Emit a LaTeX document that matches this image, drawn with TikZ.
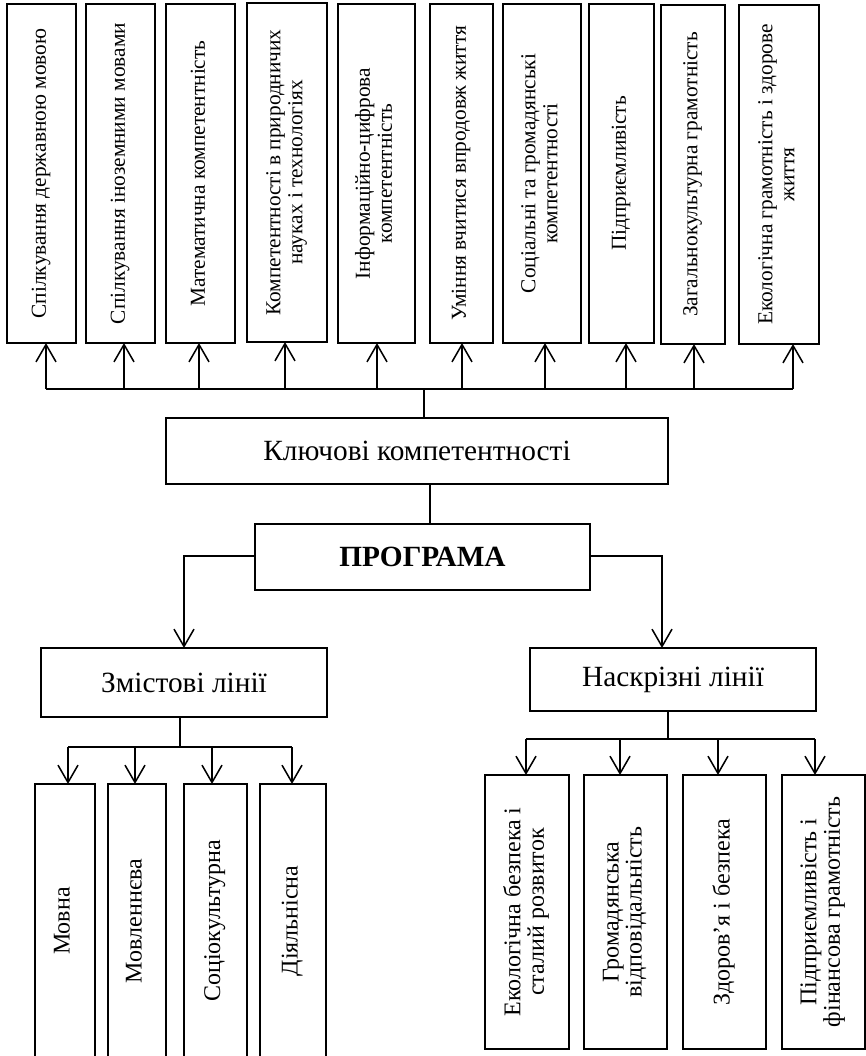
\documentclass[tikz,border=0pt]{standalone}
\usepackage{fontspec}
\setmainfont{Liberation Serif}
\usetikzlibrary{arrows.meta}
% vertical (rotated) multi-line label
\newcommand\vtext[1]{\rotatebox{90}{\begin{tabular}{@{}c@{}}#1\end{tabular}}}
\tikzset{
  frame/.style={draw, line width=1.45pt, inner sep=0pt, outer sep=0pt},
  % box from its top-left corner (x,y) with width w and height h
  place/.style n args={4}{anchor=north west, at={(#1,#2)},
    minimum width=#3*0.75pt, minimum height=#4*0.75pt},
  topbox/.style={frame, font=\fontsize{16}{16.5}\selectfont},
  subbox/.style={frame, font=\fontsize{18}{17.25}\selectfont},
  mainbox/.style={frame, font=\fontsize{22}{26}\selectfont},
  progbox/.style={frame, line width=2.1pt, font=\fontsize{22}{26}\selectfont\bfseries},
  link/.style={line width=1.15pt},
  arr/.style={link, -{Straight Barb[length=13pt,width=15pt]}},
}
\begin{document}
\begin{tikzpicture}[x=0.75pt,y=-0.75pt]
\useasboundingbox (0,0) rectangle (866,1056);

% key competences
\node[topbox, place={7}{4}{69}{339}]   (c1)  {\vtext{Спілкування  державною мовою}};
\node[topbox, place={86}{4}{69}{339}]  (c2)  {\vtext{Спілкування іноземними мовами}};
\node[topbox, place={166}{4}{69}{339}] (c3)  {\vtext{Математична компетентність}};
\node[topbox, place={247}{3}{80}{339}] (c4)  {\vtext{Компетентності в природничих\\науках і технологіях}};
\node[topbox, place={338}{4}{77}{339}] (c5)  {\vtext{Інформаційно-цифрова\\компетентність}};
\node[topbox, place={430}{4}{63}{339}] (c6)  {\vtext{Уміння вчитися впродовж життя}};
\node[topbox, place={503}{4}{78}{339}] (c7)  {\vtext{Соціальні та громадянські\\компетентності}};
\node[topbox, place={589}{4}{65}{339}] (c8)  {\vtext{Підприємливість}};
\node[topbox, place={661}{5}{64}{339}] (c9)  {\vtext{Загальнокультурна грамотність}};
\node[topbox, place={739}{5}{80}{339}] (c10) {\vtext{Екологічна грамотність і здорове\\життя}};

% central blocks
\node[mainbox, place={166}{418}{502}{66}] (key)  {Ключові компетентності};
\node[progbox, place={255}{524}{335}{66}] (prog) {ПРОГРАМА};
\node[mainbox, place={41}{648}{286}{69}]  (zm)   {Змістові лінії};
\node[mainbox, place={530}{648}{286}{63}] (nk)   {Наскрізні лінії};

% content lines
\node[subbox, place={35}{784}{60}{274}]  (m1) {\vtext{Мовна}};
\node[subbox, place={108}{784}{58}{274}] (m2) {\vtext{Мовленнєва}};
\node[subbox, place={184}{784}{63}{274}] (m3) {\vtext{Соціокультурна}};
\node[subbox, place={260}{784}{66}{274}] (m4) {\vtext{Діяльнісна}};

% cross-cutting lines
\node[subbox, place={485}{775}{84}{274}] (n1) {\vtext{Екологічна безпека і\\сталий розвиток}};
\node[subbox, place={584}{775}{83}{274}] (n2) {\vtext{Громадянська\\відповідальність}};
\node[subbox, place={683}{775}{83}{274}] (n3) {\vtext{Здоров’я і безпека}};
\node[subbox, place={782}{775}{83}{274}] (n4) {\vtext{Підприємливість і\\фінансова грамотність}};

% bus to the key competences
\coordinate (t1) at (46,389);  \coordinate (t2) at (124,389);
\coordinate (t3) at (199,389); \coordinate (t4) at (285,389);
\coordinate (t5) at (377,389); \coordinate (t6) at (462,389);
\coordinate (t7) at (545,389); \coordinate (t8) at (626,389);
\coordinate (t9) at (694,389); \coordinate (t10) at (793,389);
\coordinate (tk) at (424,389);
\draw[link] (t1) -- (t10);
\draw[link] (tk) -- (tk |- key.north);
\draw[arr] (t1) -- (t1 |- c1.south);
\draw[arr] (t2) -- (t2 |- c2.south);
\draw[arr] (t3) -- (t3 |- c3.south);
\draw[arr] (t4) -- (t4 |- c4.south);
\draw[arr] (t5) -- (t5 |- c5.south);
\draw[arr] (t6) -- (t6 |- c6.south);
\draw[arr] (t7) -- (t7 |- c7.south);
\draw[arr] (t8) -- (t8 |- c8.south);
\draw[arr] (t9) -- (t9 |- c9.south);
\draw[arr] (t10) -- (t10 |- c10.south);

% key competences -- programme
\coordinate (kp) at (430,484);
\draw[link] (kp) -- (kp |- prog.north);

% programme branches
\coordinate (pl) at (184,556);
\coordinate (pr) at (662,556);
\draw[arr] (prog.west |- pl) -- (pl) -- (pl |- zm.north);
\draw[arr] (prog.east |- pr) -- (pr) -- (pr |- nk.north);

% content lines bus
\coordinate (zb) at (180,747);
\coordinate (z1) at (68,747);  \coordinate (z2) at (135,747);
\coordinate (z3) at (212,747); \coordinate (z4) at (292,747);
\draw[link] (zm.south -| zb) -- (zb);
\draw[link] (z1) -- (z4);
\draw[arr] (z1) -- (z1 |- m1.north);
\draw[arr] (z2) -- (z2 |- m2.north);
\draw[arr] (z3) -- (z3 |- m3.north);
\draw[arr] (z4) -- (z4 |- m4.north);

% cross-cutting lines bus
\coordinate (nb) at (668,739);
\coordinate (w1) at (526,739); \coordinate (w2) at (620,739);
\coordinate (w3) at (718,739); \coordinate (w4) at (815,739);
\draw[link] (nk.south -| nb) -- (nb);
\draw[link] (w1) -- (w4);
\draw[arr] (w1) -- (w1 |- n1.north);
\draw[arr] (w2) -- (w2 |- n2.north);
\draw[arr] (w3) -- (w3 |- n3.north);
\draw[arr] (w4) -- (w4 |- n4.north);
\end{tikzpicture}
\end{document}
